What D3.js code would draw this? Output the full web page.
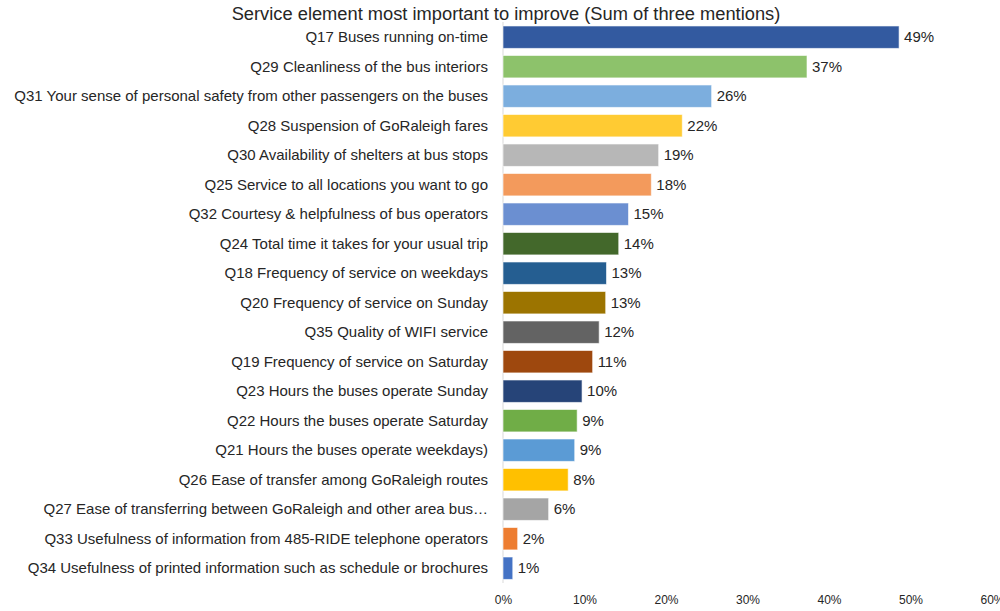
<!DOCTYPE html>
<meta charset="utf-8">
<script src="https://d3js.org/d3.v7.min.js"></script>
<style>
  body { margin: 0; background: #fff; }
  text { font-family: "Liberation Sans", Arial, sans-serif; fill: #262626; }
</style>
<div id="chart"></div>
<script>

// categories, top to bottom
var categories = [
  "Q17 Buses running on-time",
  "Q29 Cleanliness of the bus interiors",
  "Q31 Your sense of personal safety from other passengers on the buses",
  "Q28 Suspension of GoRaleigh fares",
  "Q30 Availability of shelters at bus stops",
  "Q25 Service to all locations you want to go",
  "Q32 Courtesy & helpfulness of bus operators",
  "Q24 Total time it takes for your usual trip",
  "Q18 Frequency of service on weekdays",
  "Q20 Frequency of service on Sunday",
  "Q35 Quality of WIFI service",
  "Q19 Frequency of service on Saturday",
  "Q23 Hours the buses operate Sunday",
  "Q22 Hours the buses operate Saturday",
  "Q21 Hours the buses operate weekdays)",
  "Q26 Ease of transfer among GoRaleigh routes",
  "Q27 Ease of transferring between GoRaleigh and other area bus…",
  "Q33 Usefulness of information from 485-RIDE telephone operators",
  "Q34 Usefulness of printed information such as schedule or brochures"
];

// share of mentions
var values = [0.486, 0.373, 0.256, 0.220, 0.191, 0.182, 0.154, 0.142, 0.127, 0.126,
              0.118, 0.110, 0.097, 0.091, 0.088, 0.080, 0.056, 0.018, 0.012];

var barColors = ["#335aa0", "#8dc26b", "#7caede", "#ffcb33", "#b7b7b7", "#f39a5c", "#6b8fd1",
                 "#43682b", "#255e91", "#9c7400", "#636363", "#9e480e", "#264478", "#70ad47",
                 "#5b9bd5", "#ffc000", "#a5a5a5", "#ed7d31", "#4472c4"];

var xTicks = [0, 0.1, 0.2, 0.3, 0.4, 0.5, 0.6];

var data = categories.map(function(c, i) {
  return {name: c, value: values[i], color: barColors[i]};
});

var W = 1000, H = 611;
var svg = d3.select("#chart").append("svg")
  .attr("width", W)
  .attr("height", H);

var x = d3.scaleLinear()
  .domain([0, 0.6])
  .range([503, 992]);

var y = d3.scaleBand()
  .domain(categories)
  .range([18.9, 586.5])
  .paddingInner(0.24)
  .paddingOuter(0.24);

// title
svg.append("text")
  .attr("x", 506)
  .attr("y", 20)
  .attr("text-anchor", "middle")
  .style("font-size", "18.3px")
  .text("Service element most important to improve (Sum of three mentions)");

// vertical axis line
svg.append("line")
  .attr("x1", x(0)).attr("x2", x(0))
  .attr("y1", 22).attr("y2", 583)
  .attr("stroke", "#d9d9d9")
  .attr("stroke-width", 1);

// bars
svg.selectAll(".bar")
  .data(data)
  .enter()
  .append("rect")
    .attr("class", "bar")
    .attr("x", x(0))
    .attr("y", function(d) { return y(d.name); })
    .attr("width", function(d) { return x(d.value) - x(0); })
    .attr("height", y.bandwidth())
    .style("fill", function(d) { return d.color; })
    .style("stroke", "#ffffff")
    .style("stroke-opacity", 0.6)
    .style("stroke-width", 1);

// value labels
svg.selectAll(".val")
  .data(data)
  .enter()
  .append("text")
    .attr("class", "val")
    .attr("x", function(d) { return x(d.value) + 5; })
    .attr("y", function(d) { return y(d.name) + y.bandwidth() / 2; })
    .attr("dy", "0.35em")
    .style("font-size", "15px")
    .text(function(d) { return d3.format(".0%")(d.value); });

// category labels
svg.append("g")
  .attr("transform", "translate(" + (x(0) - 4) + ",0)")
  .style("font-size", "15px")
  .call(d3.axisLeft(y).tickSize(0).tickPadding(11))
  .call(function(g) { g.select(".domain").remove(); })
  .selectAll("text")
    .style("font-family", "'Liberation Sans', Arial, sans-serif")
    .style("fill", "#262626");

// x tick labels
svg.append("g")
  .attr("transform", "translate(0,592)")
  .style("font-size", "12px")
  .call(d3.axisBottom(x).tickValues(xTicks).tickFormat(d3.format(".0%")).tickSize(0).tickPadding(3))
  .call(function(g) { g.select(".domain").remove(); })
  .selectAll("text")
    .style("font-family", "'Liberation Sans', Arial, sans-serif")
    .style("fill", "#262626");

</script>
